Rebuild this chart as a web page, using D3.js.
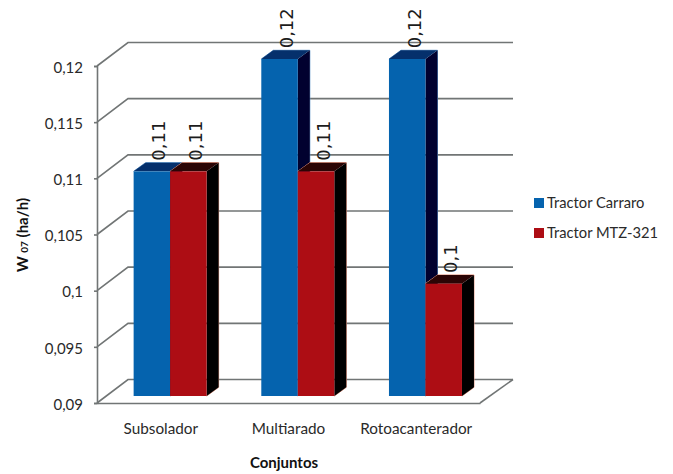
<!DOCTYPE html>
<html>
<head>
<meta charset="utf-8">
<script src="https://cdn.jsdelivr.net/npm/d3@7/dist/d3.min.js"></script>
<style>
  html, body { margin: 0; padding: 0; background: #fff; }
  text { font-family: Lato, "Open Sans", sans-serif; fill: #2a2a2a; }
</style>
</head>
<body>
<script>
const categories = ["Subsolador", "Multiarado", "Rotoacanterador"];
const seriesNames = ["Tractor Carraro", "Tractor MTZ-321"];
const carraro = [0.11, 0.12, 0.12];
const mtz321 = [0.11, 0.11, 0.1];
const yTicks = [0.09, 0.095, 0.1, 0.105, 0.11, 0.115, 0.12];
const faceColors = ["#0563ae", "#ad0d14"];
const topColors = ["#05306c", "#2b0505"];
const sideColors = ["#01012f", "#000000"];
const edgeColors = ["#5b93c8", "#e0907a"];

const width = 673, height = 474;
const comma = v => String(v).replace(".", ",");

const svg = d3.select("body").append("svg")
  .attr("width", width).attr("height", height)
  .style("display", "block");

// Oblique projection: the back wall is offset from the front axis.
const wall = { dx: 31, dy: -23.5 };
const bar = { dx: 12, dy: -8.7, lift: -7 };

const y = d3.scaleLinear().domain([0.09, 0.12]).range([403, 66]);
const x0 = d3.scaleBand().domain(categories).range([97, 480]);
const barX = d3.scaleBand().domain(seriesNames).range([0, 73]);

const gridColor = "#717575";

// Floor and back wall
const grid = svg.append("g").attr("fill", "none").attr("stroke", gridColor).attr("stroke-width", 1.6);
yTicks.forEach(t => {
  grid.append("path").attr("d", d3.line()([
    [x0.range()[0], y(t)],
    [x0.range()[0] + wall.dx, y(t) + wall.dy],
    [x0.range()[1] + wall.dx + 2, y(t) + wall.dy]
  ]));
});
grid.append("path").attr("d", d3.line()([
  [x0.range()[1], y(0.09)],
  [x0.range()[1] + wall.dx + 2, y(0.09) + wall.dy]
]));

// Bars, painted group by group so later faces overlap earlier sides
const series = [carraro, mtz321];
const groupLeft = cat => x0(cat) + (x0.bandwidth() - barX.range()[1]) / 2 + 9.3;

categories.forEach(cat => {
  const i = categories.indexOf(cat);
  seriesNames.forEach((name, s) => {
    const v = series[s][i];
    const xl = groupLeft(cat) + barX(name), xr = xl + barX.bandwidth();
    const yt = y(v) + bar.lift, yb = y(0.09) + bar.lift;
    const g = svg.append("g");
    // thin lit edge around the top and side of the prism
    g.append("path").attr("fill", "none").attr("stroke", edgeColors[s]).attr("stroke-width", 1)
      .attr("d", d3.line()([
        [xl, yt], [xl + bar.dx, yt + bar.dy], [xr + bar.dx, yt + bar.dy],
        [xr + bar.dx, yb + bar.dy], [xr, yb]
      ]));
    // side face
    g.append("path").attr("fill", sideColors[s]).attr("d", d3.line()([
      [xr, yt], [xr + bar.dx, yt + bar.dy], [xr + bar.dx, yb + bar.dy], [xr, yb]
    ]) + "Z");
    // top face
    g.append("path").attr("fill", topColors[s]).attr("d", d3.line()([
      [xl, yt], [xl + bar.dx, yt + bar.dy], [xr + bar.dx, yt + bar.dy], [xr, yt]
    ]) + "Z");
    // front face
    g.append("rect").attr("fill", faceColors[s])
      .attr("x", xl).attr("y", yt)
      .attr("width", xr - xl).attr("height", yb - yt);
  });
});

// Value labels, rotated above each bar
categories.forEach(cat => {
  const i = categories.indexOf(cat);
  seriesNames.forEach((name, s) => {
    const v = series[s][i];
    const cx = groupLeft(cat) + barX(name) + barX.bandwidth() / 2 + 9;
    const by = y(v) + bar.lift + bar.dy - 2;
    svg.append("text")
      .attr("transform", `translate(${cx + 4.5},${by}) rotate(-90)`)
      .style("font-family", "'DejaVu Sans'")
      .style("font-size", "18px")
      .style("fill", "#1c1c1c")
      .text(comma(v));
  });
});

// Value axis
const yAxis = svg.append("g").attr("transform", "translate(97,0)")
  .call(d3.axisLeft(y).tickValues(yTicks).tickFormat(comma).tickSize(3).tickPadding(11));
yAxis.selectAll("path,line").attr("stroke", gridColor).attr("stroke-width", 1.6);
yAxis.selectAll("text").style("font-size", "15px").style("font-family", "Lato")
  .attr("dy", "0.42em");

// Category axis
const xAxis = svg.append("g").attr("transform", "translate(0,403)")
  .call(d3.axisBottom(x0).tickSize(0).tickPadding(20.5));
xAxis.select("path").attr("stroke", gridColor).attr("stroke-width", 1.6);
xAxis.selectAll("text").style("font-size", "15.3px").style("font-family", "Lato");

// Axis titles
svg.append("text").attr("x", 284).attr("y", 468).attr("text-anchor", "middle")
  .style("font-size", "15px").style("font-weight", 700).style("fill", "#111").text("Conjuntos");
const yTitle = svg.append("text")
  .attr("transform", "translate(28,235) rotate(-90)").attr("text-anchor", "middle")
  .style("font-size", "15px").style("font-weight", 700).style("fill", "#111");
yTitle.append("tspan").text("W ");
yTitle.append("tspan").style("font-size", "10px").text("07");
yTitle.append("tspan").text(" (ha/h)");

// Legend
const legend = svg.append("g");
seriesNames.forEach((name, s) => {
  const ly = 203 + s * 30;
  legend.append("rect").attr("x", 534).attr("y", ly - 5).attr("width", 10).attr("height", 10)
    .attr("fill", faceColors[s]);
  legend.append("text").attr("x", 547).attr("y", ly + 5)
    .style("font-size", "14.7px").text(name);
});
</script>
</body>
</html>
